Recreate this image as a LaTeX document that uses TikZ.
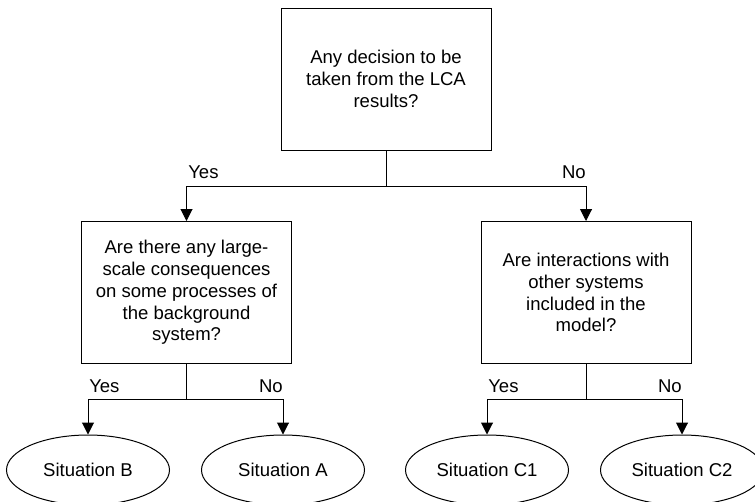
\documentclass[tikz,border=0pt]{standalone}
\usepackage{fontspec}
\setmainfont{Liberation Sans}
\usetikzlibrary{arrows.meta,shapes.geometric}

\begin{document}
\begin{tikzpicture}[x=0.75pt,y=-0.75pt,
		question/.style={draw, line width=0.75pt, rectangle, minimum width=157.5pt, minimum height=106.5pt, align=center, inner sep=0pt},
		situation/.style={draw, line width=0.75pt, ellipse, minimum width=122.25pt, minimum height=52.5pt, inner sep=0pt},
		answer/.style={inner sep=0pt},
		branch/.style={line width=0.75pt},
		arrow/.style={branch, -{Triangle[width=9pt,length=9pt]}},
		font=\fontsize{13.9}{16.3}\selectfont]
		%% The page is the frame, and the bottom row of ellipses runs off it
		\clip (0,0) rectangle (755,501);
		%% The questions
		\node[question] (q1) at (386,79) {Any decision to be\\taken from the LCA\\results?};
		\node[question] (q2) at (186.5,292.5) {Are there any large-\\scale consequences\\on some processes of\\the background\\system?};
		\node[question] (q3) at (586,292.5) {Are interactions with\\other systems\\included in the\\model?};
		%% The situations
		\node[situation] (sB) at (88,470) {Situation B};
		\node[situation] (sA) at (283,470) {Situation A};
		\node[situation] (sC1) at (487,470) {Situation C1};
		\node[situation] (sC2) at (682,470) {Situation C2};
		%% Where the lines split
		\coordinate (fork1) at (386,186);
		\coordinate (fork2) at (186.5,399);
		\coordinate (fork3) at (586,399);
		\draw[branch] (q1.south) -- (fork1);
		\draw[arrow] (fork1) -| (q2.north);
		\draw[arrow] (fork1) -| (q3.north);
		\draw[branch] (q2.south) -- (fork2);
		\draw[arrow] (fork2) -| (sB.north);
		\draw[arrow] (fork2) -| (sA.north);
		\draw[branch] (q3.south) -- (fork3);
		\draw[arrow] (fork3) -| (sC1.north);
		\draw[arrow] (fork3) -| (sC2.north);
		%% Yes and No sit just above the lines
		\node[answer, anchor=base west] (yes1) at (188,178) {Yes};
		\node[answer, anchor=base east] (no1) at (586,178) {No};
		\node[answer, anchor=base west] (yes2) at (89,392) {Yes};
		\node[answer, anchor=base east] (no2) at (283,392) {No};
		\node[answer, anchor=base west] (yes3) at (488,392) {Yes};
		\node[answer, anchor=base east] (no3) at (682,392) {No};
	\end{tikzpicture}
\end{document}
